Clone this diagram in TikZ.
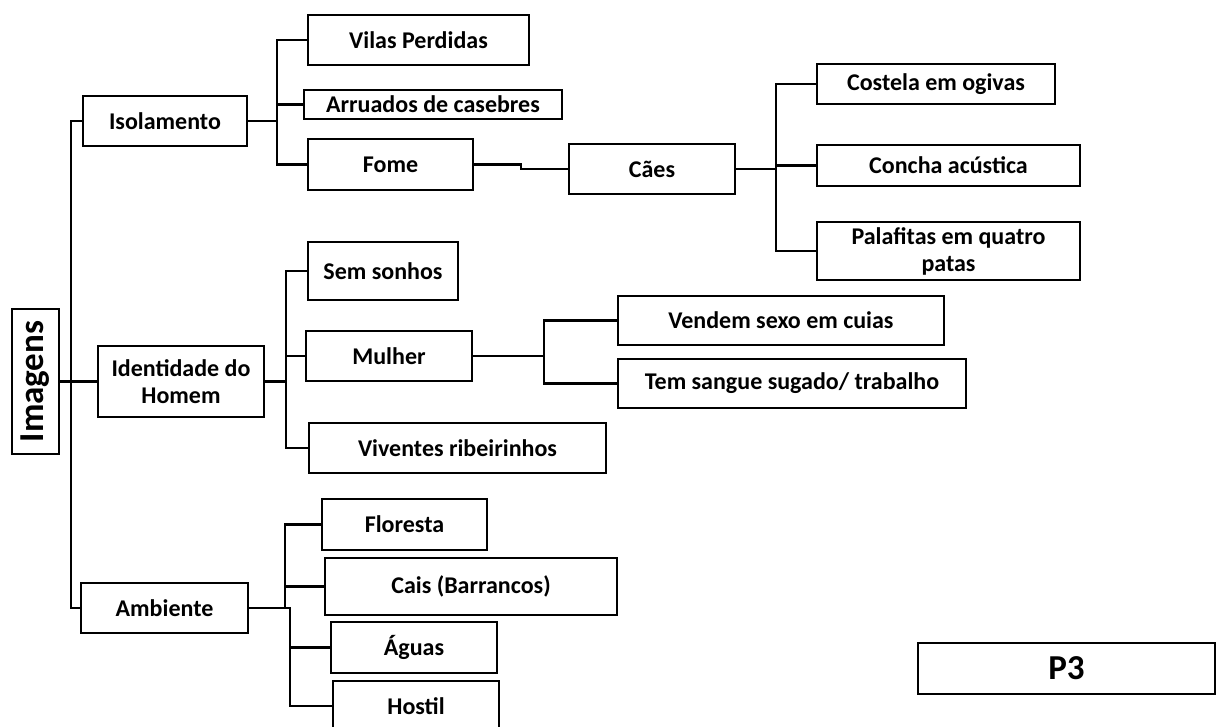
\documentclass[tikz,border=0pt]{standalone}
\usepackage{fontspec}
\setmainfont{Carlito}
\usetikzlibrary{positioning}

\begin{document}
\begin{tikzpicture}[
  x=1pt, y=-1pt,
  box/.style  = {draw, line width=2pt, inner sep=0pt, align=center,
                 font=\fontsize{24}{27}\selectfont\bfseries},
  big/.style  = {font=\fontsize{35}{40}\selectfont\bfseries},
  con/.style  = {line width=2.2pt},
]
\useasboundingbox (0,0) rectangle (1223,727);

%% ---- bus lines -----------------------------------------------------------
\coordinate (trunk)   at (71,0);
\coordinate (isoBus)  at (277,0);
\coordinate (fomeJog) at (521,0);
\coordinate (caesBus) at (776,0);
\coordinate (idBus)   at (286,0);
\coordinate (mulBus)  at (544,0);
\coordinate (ambBusA) at (285,0);
\coordinate (ambBusB) at (290,0);

%% ---- root and first level ------------------------------------------------
\node[box, big, minimum width=47pt, minimum height=145pt] (imagens) at (35.5,381.5)
  {\rotatebox{90}{Imagens}};
\node[box, minimum width=164pt, minimum height=50pt] (isol)  at (165,121)   {Isolamento};
\node[box, minimum width=166pt, minimum height=71pt] (ident) at (181,381.5) {Identidade do\\Homem};
\node[box, minimum width=167pt, minimum height=50pt] (amb)   at (164.5,608) {Ambiente};

%% ---- Isolamento ----------------------------------------------------------
\node[box, minimum width=221pt, minimum height=50pt] (vilas) at (418.5,40)  {Vilas Perdidas};
\node[box, minimum width=258pt, minimum height=29pt] (arru)  at (433,104.5) {Arruados de casebres};
\node[box, minimum width=165pt, minimum height=51pt] (fome)  at (390.5,164.5) {Fome};
\node[box, minimum width=166pt, minimum height=50pt] (caes)  at (652,169)   {Cães};
\node[box, minimum width=238pt, minimum height=40pt] (cost)  at (936,84)    {Costela em ogivas};
\node[box, minimum width=263pt, minimum height=41pt] (conc)  at (948.5,165.5) {Concha acústica};
\node[box, minimum width=263pt, minimum height=58pt] (pala)  at (948.5,251) {Palafitas em quatro\\patas};

%% ---- Identidade do Homem -------------------------------------------------
\node[box, minimum width=150pt, minimum height=58pt] (sems)  at (383,271)   {Sem sonhos};
\node[box, minimum width=166pt, minimum height=50pt] (mulh)  at (389,356)   {Mulher};
\node[box, minimum width=297pt, minimum height=50pt] (vive)  at (457.5,448) {Viventes ribeirinhos};
\node[box, minimum width=326pt, minimum height=49pt] (vend)  at (781,320.5) {Vendem sexo em cuias};
\node[box, minimum width=348pt, minimum height=49pt] (temS)  at (792,383.5) {Tem sangue sugado/ trabalho};

%% ---- Ambiente ------------------------------------------------------------
\node[box, minimum width=165pt, minimum height=51pt] (flor)  at (404.5,524.5) {Floresta};
\node[box, minimum width=292pt, minimum height=57pt] (cais)  at (471,586.5) {Cais (Barrancos)};
\node[box, minimum width=166pt, minimum height=51pt] (agua)  at (414,647.5) {Águas};
\node[box, minimum width=166pt, minimum height=50pt] (host)  at (416,706)   {Hostil};

\node[box, big, minimum width=297pt, minimum height=51pt] (p3) at (1066.5,668.5) {P3};

%% ---- connectors ----------------------------------------------------------
\draw[con] (isol.west) -- (isol.west -| trunk) |- (amb.west);
\draw[con] (imagens.east) -- (ident.west);
\foreach \c in {vilas,arru,fome}
  \draw[con] (isol.east) -- (isol.east -| isoBus) |- (\c.west);
\draw[con] (fome.east) -- (fome.east -| fomeJog) |- (caes.west);
\foreach \c in {cost,conc,pala}
  \draw[con] (caes.east) -- (caes.east -| caesBus) |- (\c.west);
\foreach \c in {sems,mulh,vive}
  \draw[con] (ident.east) -- (ident.east -| idBus) |- (\c.west);
\foreach \c in {vend,temS}
  \draw[con] (mulh.east) -- (mulh.east -| mulBus) |- (\c.west);
\foreach \c in {flor,cais}
  \draw[con] (amb.east) -- (amb.east -| ambBusA) |- (\c.west);
\foreach \c in {agua,host}
  \draw[con] (amb.east) -- (amb.east -| ambBusB) |- (\c.west);

\end{tikzpicture}
\end{document}
